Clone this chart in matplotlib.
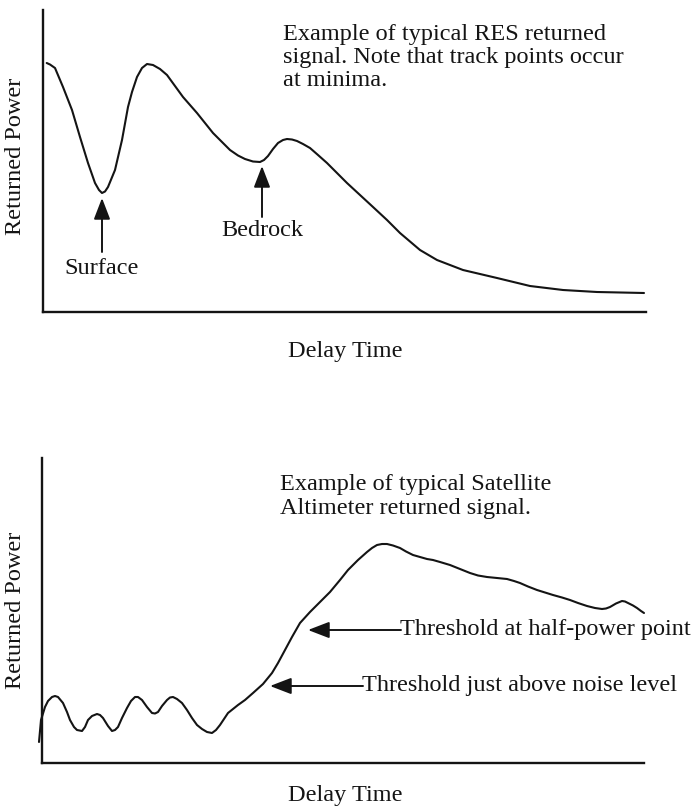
import matplotlib
matplotlib.use("Agg")
import matplotlib.pyplot as plt

plt.rcParams['font.family'] = ['Liberation Serif', 'DejaVu Serif']

W, H = 699, 808

# ---- Top panel: RES returned signal (delay time, returned power; arbitrary units) ----
res_delay = [3.7, 7, 12, 20, 29, 37, 45, 52, 56, 59,
             62, 65, 72, 79, 85, 89, 94, 99, 104, 110,
             117, 124, 132, 140, 147, 154, 162, 170, 179, 187,
             195, 202, 210, 217, 221, 225, 230, 235, 240, 244,
             249, 254, 260, 267, 275, 284, 294, 304, 317, 330,
             344, 357, 377, 394, 420, 454, 487, 520, 554, 601]
res_power = [249, 247.5, 244, 225, 202, 175, 149, 129, 122, 119,
             120.5, 125, 142, 172, 205, 220, 235, 244, 248, 247,
             243, 237, 226, 215, 207, 199, 189, 179, 170, 162,
             156.5, 153, 150.5, 150, 152, 156, 163, 169, 172, 173,
             172.5, 171, 168, 164, 157, 149, 139, 129, 117, 105,
             92, 79, 62, 52, 42, 34, 26, 22, 20, 19]

# ---- Bottom panel: Satellite altimeter returned signal ----
alt_delay = [-3, -1, 3, 6, 10, 13, 16, 21, 25, 28,
             32, 35, 40, 43, 46, 50, 55, 58, 61, 66,
             70, 73, 76, 80, 85, 89, 93, 96, 100, 105,
             110, 113, 116, 120, 125, 128, 131, 135, 140, 145,
             150, 155, 160, 165, 170, 174, 178, 182, 186, 191,
             196, 203, 211, 221, 230, 236, 243, 250, 258, 268,
             278, 288, 298, 306, 316, 325, 330, 335, 340, 345,
             351, 358, 364, 371, 378, 385, 391, 398, 408, 418,
             428, 436, 445, 455, 465, 472, 478, 486, 495, 503,
             511, 520, 528, 536, 545, 553, 560, 564, 568, 574,
             580, 583, 586, 591, 595, 599, 602]
alt_power = [21, 43, 56, 62, 66, 67, 66, 60, 51, 43,
             36, 33, 32, 36, 43, 47, 49, 48, 45, 37,
             32, 33, 36, 45, 55, 62, 66, 66, 63, 56,
             50, 49.5, 51, 57, 63, 65.5, 66, 64, 60, 53,
             45, 38, 34, 31, 30, 33, 38, 44, 50, 54,
             58, 63, 70, 79, 90, 100, 113, 126, 140, 151,
             161, 171, 183, 193, 203, 211, 215, 218, 219, 219,
             217.5, 215, 211.5, 208, 206, 204, 203, 201, 198, 194,
             190, 187.5, 186, 185, 184, 182, 180, 176.5, 173, 170.5,
             168, 165.5, 163, 160, 157, 155, 154, 154.5, 156, 159.5,
             162, 161.5, 160, 157.5, 155, 152, 150]

# ---- Annotations ----
res_title = "Example of typical RES returned\nsignal. Note that track points occur\nat minima."
alt_title = "Example of typical Satellite\nAltimeter returned signal."
surface_label, bedrock_label = "Surface", "Bedrock"
half_label = "Threshold at half-power point"
noise_label = "Threshold just above noise level"
ylabel_text, xlabel_text = "Returned Power", "Delay Time"

INK = '#141414'
TXT = 17.5

fig = plt.figure(figsize=(W / 100, H / 100), dpi=100)
fig.patch.set_facecolor('white')


def make_axes(left_px, bottom_px, right_px, top_px, ylim_top):
    ax = fig.add_axes([left_px / W, 1 - bottom_px / H,
                       (right_px - left_px) / W, (bottom_px - top_px) / H])
    ax.set_xlim(0, right_px - left_px)
    ax.set_ylim(0, ylim_top)
    for s in ('top', 'right'):
        ax.spines[s].set_visible(False)
    for s in ('left', 'bottom'):
        ax.spines[s].set_linewidth(1.7)
        ax.spines[s].set_color(INK)
    ax.set_xticks([])
    ax.set_yticks([])
    ax.patch.set_alpha(0)
    return ax


arrow_kw = dict(arrowstyle='-|>,head_length=1.3,head_width=0.5', mutation_scale=10,
                lw=1.4, color=INK, shrinkA=0, shrinkB=0)

# Top panel
ax1 = make_axes(43, 312, 646, 10, 302)
ax1.plot(res_delay, res_power, color=INK, lw=1.5, solid_capstyle='round',
         solid_joinstyle='round', clip_on=False)
ax1.text(240, 288, res_title, fontsize=TXT, va='top', ha='left', linespacing=1.13,
         color=INK)
ax1.annotate('', xy=(59, 114), xytext=(59, 60), arrowprops=arrow_kw)
ax1.text(59, 43, surface_label, fontsize=TXT, ha='center', va='center', color=INK)
ax1.annotate('', xy=(219, 146), xytext=(219, 95), arrowprops=arrow_kw)
ax1.text(219, 81, bedrock_label, fontsize=TXT, ha='center', va='center', color=INK)

# Bottom panel
ax2 = make_axes(42, 763, 644, 458, 305)
ax2.plot(alt_delay, alt_power, color=INK, lw=1.5, solid_capstyle='round',
         solid_joinstyle='round', clip_on=False)
ax2.text(238, 289, alt_title, fontsize=TXT, va='top', ha='left', linespacing=1.18,
         color=INK)
ax2.annotate('', xy=(266, 133), xytext=(359, 133), arrowprops=arrow_kw)
ax2.text(358, 133, half_label, fontsize=TXT, ha='left', va='center', color=INK)
ax2.annotate('', xy=(228, 77), xytext=(321, 77), arrowprops=arrow_kw)
ax2.text(320, 77, noise_label, fontsize=TXT, ha='left', va='center', color=INK)

# Axis labels
for cy in (156, 610):
    fig.text(16 / W, 1 - cy / H, ylabel_text, rotation=90, fontsize=TXT,
             ha='center', va='center', color=INK)
for cy in (352, 795):
    fig.text(345 / W, 1 - cy / H, xlabel_text, fontsize=TXT, ha='center',
             va='center', color=INK)

fig.savefig('out.png', dpi=100, facecolor='white')
